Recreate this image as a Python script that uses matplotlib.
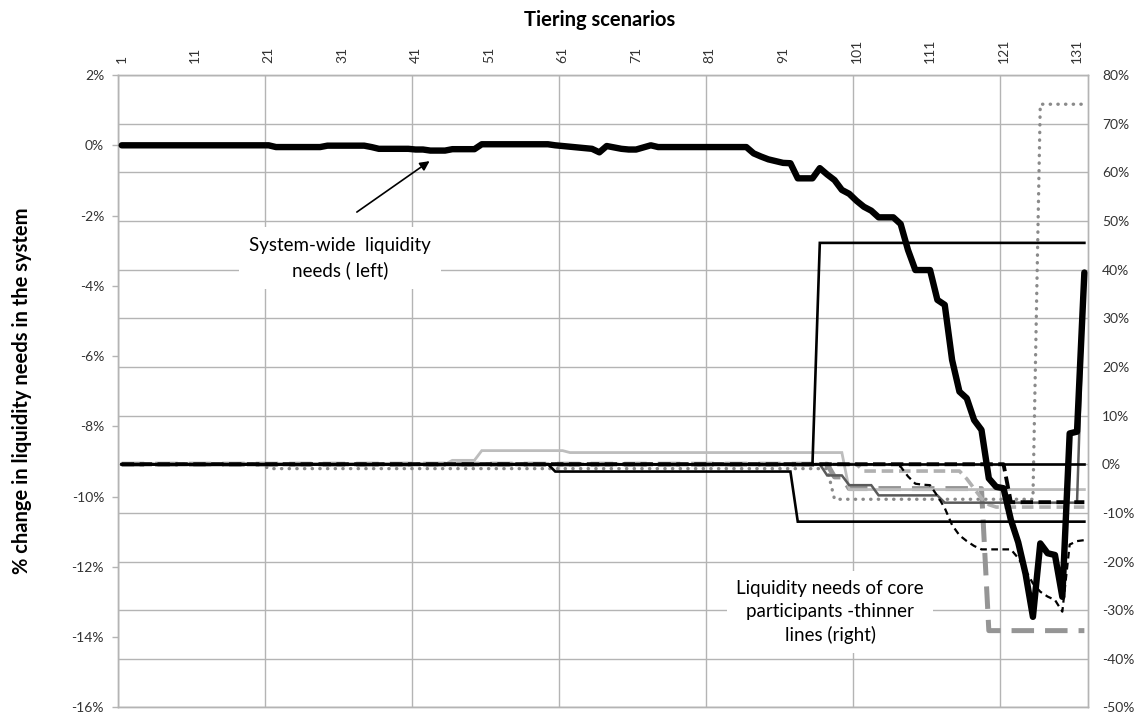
import matplotlib
matplotlib.use('Agg')
import matplotlib.pyplot as plt
import numpy as np

plt.rcParams['font.family'] = ['Lato', 'DejaVu Sans']

# ── data ───────────────────────────────────────────────────────────────────────
scenarios = np.arange(1, 133)

# system-wide liquidity needs, % change (left axis)
system_wide = ([0.0] * 21 + [-0.05] * 7 + [-0.01] * 6 + [-0.05] + [-0.10] * 5
               + [-0.12] * 2 + [-0.15] * 3 + [-0.11] * 4 + [0.03] * 10
               + [0.0, -0.02, -0.04, -0.06, -0.08, -0.10, -0.20, -0.02, -0.06,
                  -0.10, -0.12, -0.12, -0.06, 0.0]
               + [-0.05] * 13
               + [-0.23, -0.32, -0.40, -0.45, -0.50, -0.51, -0.94, -0.94, -0.94,
                  -0.65, -0.83, -0.99, -1.27, -1.38, -1.58, -1.75, -1.86, -2.05,
                  -2.05, -2.05, -2.24, -2.98, -3.55, -3.55, -3.55, -4.40, -4.54,
                  -6.11, -7.01, -7.20, -7.82, -8.10, -9.48, -9.72, -9.76, -10.66,
                  -11.30, -12.20, -13.42, -11.33, -11.61, -11.66, -12.85, -8.20,
                  -8.15, -3.62])

# core participants, % change (right axis)
core_a = [0.0] * 95 + [45.5] * 37                                        # black, jumps up
core_b = [0.0] * 59 + [-1.5] * 33 + [-11.8] * 40                          # black, steps down
core_c = [0.0] * 132                                                      # black, flat
core_d = [0.0] * 45 + [0.8] * 4 + [2.8] * 12 + [2.4] * 38 + [-5.2] * 33   # light grey
core_e = [0.0] * 20 + [-0.9] * 77 + [-7.2] * 28 + [74.0] * 7             # grey dotted
core_f = ([0.0] * 96 + [-2.3] * 3 + [-4.3] * 4 + [-6.4] * 9 + [-7.9] * 19
          + [39.0])                                                       # dark grey
core_g = [0.0] * 97 + [-2.6] * 2 + [-5.0] * 19 + [-34.2] * 14            # grey long dash
core_h = ([0.0] * 101 + [-1.4] * 14
          + [-3.0, -5.0, -7.0, -8.3] + [-8.8] * 13)                       # light grey dash
core_i = [0.0] * 121 + [-7.8] * 11                                        # black heavy dash
core_j = ([0.0] * 106
          + [-0.5, -2.5, -4.0, -4.2, -4.3, -6.5, -9.0, -12.5, -14.6, -15.8, -16.8]
          + [-17.5] * 5
          + [-19.3, -21.8, -24.5, -26.2, -27.2, -27.9, -30.3, -16.5, -15.8, -15.6])

left_ticks = np.arange(-16, 3, 2)
right_ticks = np.arange(-50, 81, 10)
x_labels = np.arange(1, 132, 10)

# ── styles ─────────────────────────────────────────────────────────────────────
GRID = '#B4B4B4'
TXT = '#333333'
core_styles = [
    (core_g, dict(color='#959595', lw=3.6, dashes=(4.5, 2.2))),
    (core_d, dict(color='#BDBDBD', lw=2.0)),
    (core_e, dict(color='#8A8A8A', lw=2.4, dashes=(0.1, 2.2), dash_capstyle='round')),
    (core_h, dict(color='#B0B0B0', lw=2.6, dashes=(3.2, 1.6))),
    (core_f, dict(color='#5A5A5A', lw=1.8)),
    (core_i, dict(color='#000000', lw=2.8, dashes=(3.2, 1.4))),
    (core_j, dict(color='#000000', lw=1.6, dashes=(3.0, 2.0))),
    (core_b, dict(color='#000000', lw=1.9)),
    (core_a, dict(color='#000000', lw=1.9)),
    (core_c, dict(color='#000000', lw=1.9)),
]

# ── figure ─────────────────────────────────────────────────────────────────────
fig = plt.figure(figsize=(11.38, 7.17), dpi=100)
ax = fig.add_axes([0.1037, 0.01325, 0.8524, 0.8821])
ax2 = ax.twinx()
ax.set_zorder(ax2.get_zorder() + 1)
ax.patch.set_visible(False)

# gridlines: horizontal from the right axis, vertical every 20 scenarios
ax2.set_ylim(-50, 80)
ax2.set_yticks(right_ticks)
ax2.set_yticklabels([f'{t}%' for t in right_ticks])
ax2.grid(axis='y', color=GRID, lw=1.0, zorder=0)
for xb in np.arange(0.5, 132, 20):
    ax2.axvline(xb, color=GRID, lw=1.0, zorder=0.5)

for series, st in core_styles:
    ax2.plot(scenarios, series, solid_joinstyle='miter', zorder=2, **st)

ax.plot(scenarios, system_wide, color='black', lw=4.6, solid_joinstyle='round',
        solid_capstyle='round', zorder=3)

ax.set_xlim(0.5, 132.5)
ax.set_ylim(-16, 2)
ax.set_yticks(left_ticks)
ax.set_yticklabels([f'{t}%' for t in left_ticks])

ax.xaxis.tick_top()
ax.set_xticks(x_labels)
ax.set_xticklabels([str(v) for v in x_labels], rotation=90)
ax.tick_params(axis='x', length=0, pad=8.5, labelsize=10, colors=TXT)
ax.tick_params(axis='y', length=4, width=1, color=GRID, labelsize=10,
               labelcolor=TXT, pad=6)
ax2.tick_params(axis='y', length=0, labelsize=10, labelcolor=TXT, pad=10)

for a in (ax, ax2):
    for sp in a.spines.values():
        sp.set_color(GRID)
        sp.set_linewidth(1.0)

fig.text(0.527, 1 - 20 / 717, 'Tiering scenarios', ha='center', va='center',
         fontsize=14.5, fontweight='bold')
fig.text(0.0195, 1 - 391 / 717, '% change in liquidity needs in the system',
         ha='center', va='center', rotation=90, fontsize=14.5, fontweight='bold')

# ── annotations ────────────────────────────────────────────────────────────────
ax.text(30.7, -3.21, 'System-wide  liquidity\nneeds ( left)', ha='center',
        va='center', fontsize=13.5, linespacing=1.45, zorder=4,
        bbox=dict(boxstyle='square,pad=0.55', facecolor='white', edgecolor='none'))
ax.text(97.4, -13.28, 'Liquidity needs of core\nparticipants -thinner\nlines (right)',
        ha='center', va='center', fontsize=13.5, linespacing=1.4, zorder=4,
        bbox=dict(boxstyle='square,pad=0.5', facecolor='white', edgecolor='none'))
ax.annotate('', xy=(42.9, -0.45), xytext=(33.0, -1.90),
            arrowprops=dict(arrowstyle='-|>', color='black', lw=1.2,
                            mutation_scale=14, shrinkA=0, shrinkB=0), zorder=4)

fig.savefig('out.png', dpi=100, facecolor='white')
plt.close(fig)
